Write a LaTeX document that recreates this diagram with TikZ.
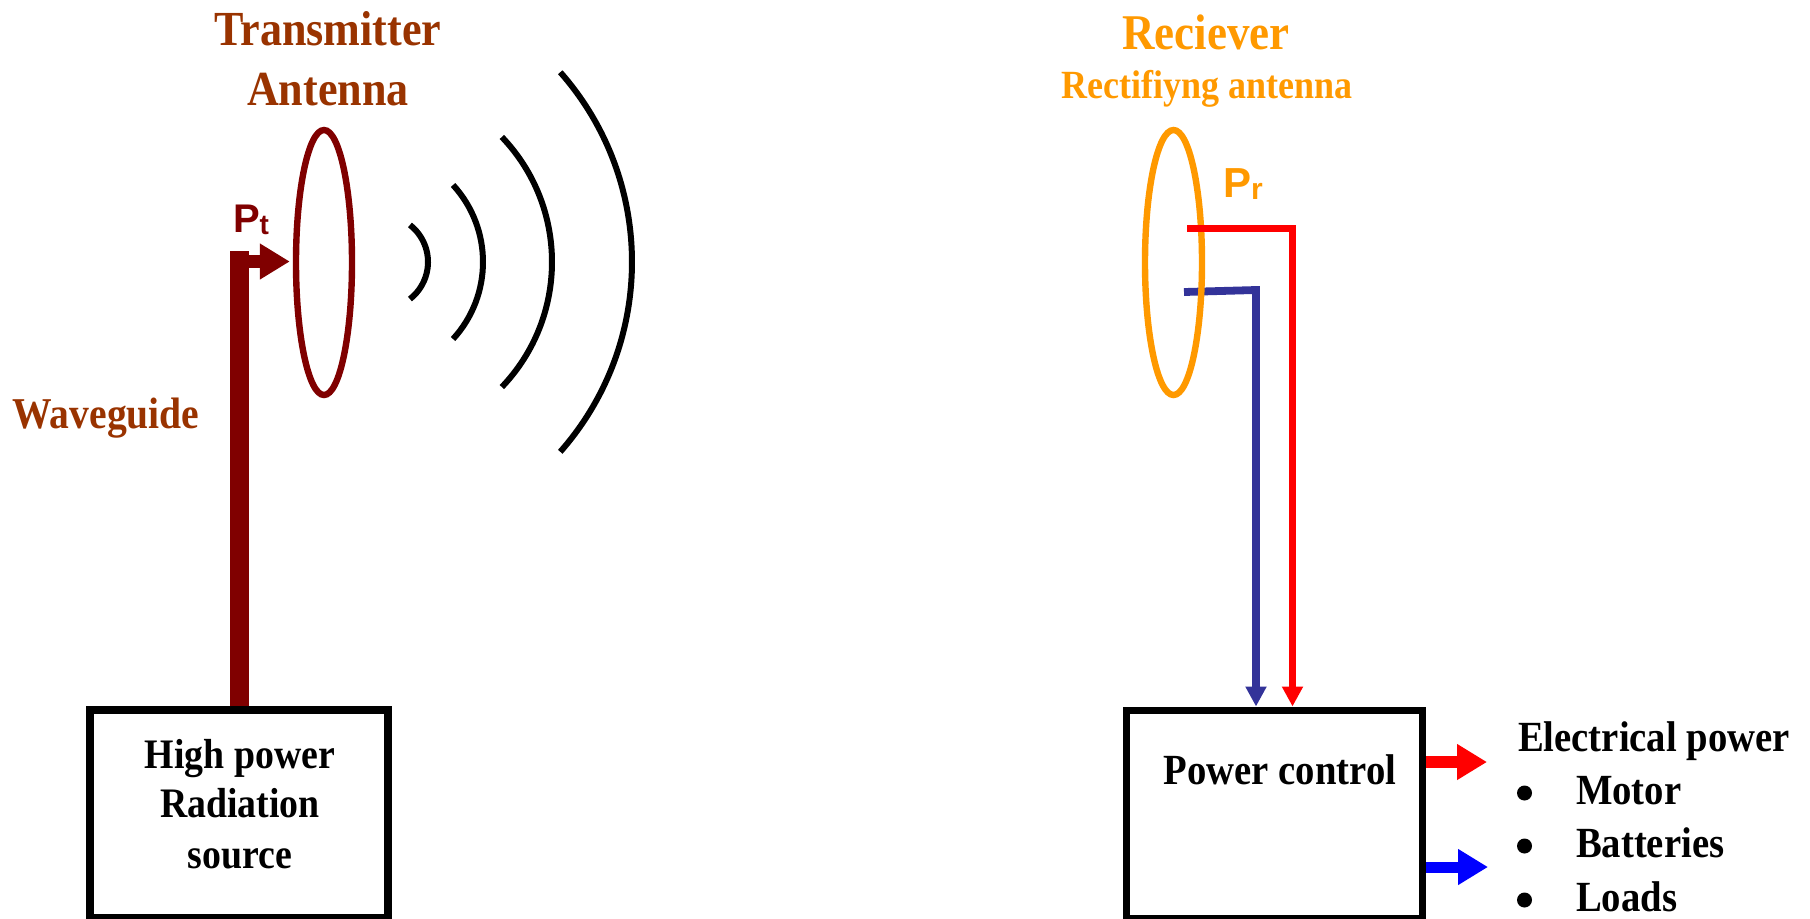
\documentclass[tikz,border=0pt]{standalone}
\usepackage{fontspec}
\setmainfont{Liberation Serif}[FakeStretch=0.9]
\newfontfamily\sansf{Liberation Sans}
\usetikzlibrary{shapes.geometric,arrows.meta}
\definecolor{brn}{HTML}{993300}
\definecolor{dred}{HTML}{800000}
\definecolor{orng}{HTML}{FF9900}
\definecolor{navy}{HTML}{333399}
\definecolor{rd}{HTML}{FF0000}
\definecolor{bl}{HTML}{0000FF}
\begin{document}
\begin{tikzpicture}[x=0.5pt,y=-0.5pt,
  txt/.style={inner sep=0pt, outer sep=0pt},
  boxs/.style={draw=black, line width=3.75pt, inner sep=0pt, rectangle},
  wave/.style={draw=black, line width=3pt},
  bigtip/.style={-{Triangle[width=17pt,length=15pt]}},
  smalltip/.style={-{Triangle[width=10pt,length=10pt]}},
  dot/.style={circle, fill=black, inner sep=0pt, minimum size=7.5pt},
  f/.style={font=\fontsize{#1}{#1}\selectfont\bfseries}
]
\useasboundingbox (0,0) rectangle (1810,918);

% titles
\node[txt, f=24.5, text=brn, anchor=base] (t1) at (328,45) {Transmitter};
\node[txt, f=24.5, text=brn, anchor=base] (t2) at (328,105) {Antenna};
\node[txt, f=25, text=orng, anchor=base] (r1) at (1206,49) {Reciever};
\node[txt, f=20, text=orng, anchor=base] (r2) at (1207,98) {Rectifiyng antenna};
\node[txt, f=22, text=brn, anchor=base] (wg) at (106,428) {Waveguide};

% boxes
\node[boxs, minimum width=149pt, minimum height=104pt] (src) at (239,814) {};
\node[boxs, minimum width=148pt, minimum height=104pt] (pc) at (1274.5,814.25) {};
\node[txt, f=21, anchor=base] (s1) at (240,768) {High power};
\node[txt, f=21, anchor=base] (s2) at (240,817) {Radiation};
\node[txt, f=21, anchor=base] (s3) at (240,868) {source};
\node[txt, f=21.5, anchor=base] (pct) at (1280,784) {Power control};

% antennas
\node[ellipse, draw=dred, line width=3.2pt, minimum width=28pt, minimum height=132.5pt, inner sep=0pt] (tx) at (324,262.5) {};

% waveguide and Pt arrow
\coordinate (wgtop) at (239.5,251);
\draw[dred, line width=9.5pt] (src.north -| wgtop) -- (wgtop);
\coordinate (ptstart) at (245,261.5);
\draw[dred, line width=6.5pt, bigtip, shorten >=1.5pt] (ptstart) -- (ptstart -| tx.west);
\node[txt, text=dred, anchor=base west, font=\sansf\bfseries\fontsize{20}{20}\selectfont] (pt) at (233,232) {P\raisebox{-1pt}{\fontsize{14}{14}\selectfont t}};

% waves
\draw[wave] (381,262) ++(-52:47) arc[start angle=-52, end angle=52, radius=47];
\draw[wave] (369,262) ++(-42.5:114) arc[start angle=-42.5, end angle=42.5, radius=114];
\draw[wave] (371,262) ++(-43.7:181) arc[start angle=-43.7, end angle=43.7, radius=181];
\draw[wave] (345,262) ++(-41.4:287) arc[start angle=-41.4, end angle=41.4, radius=287];

% receiver
\coordinate (b1) at (1184,292);
\coordinate (b2) at (1256,290);
\draw[navy, line width=3.9pt, smalltip] (b1) -- (b2) -- (b2 |- pc.north);
\node[ellipse, draw=orng, line width=3.2pt, minimum width=28.5pt, minimum height=132.5pt, inner sep=0pt] (rx) at (1173.5,262.5) {};
\coordinate (a1) at (1187,228.5);
\coordinate (a2) at (1292.5,228.5);
\draw[rd, line width=3.9pt, smalltip] (a1) -- (a2) -- (a2 |- pc.north);
\node[txt, text=orng, anchor=base west, font=\sansf\bfseries\fontsize{21}{21}\selectfont] (pr) at (1223,197) {P\raisebox{-1pt}{\fontsize{15}{15}\selectfont r}};

% outputs
\coordinate (o1) at (1487,762);
\coordinate (o2) at (1488,867);
\draw[rd, line width=6pt, bigtip] (pc.east |- o1) -- (o1);
\draw[bl, line width=5.5pt, bigtip] (pc.east |- o2) -- (o2);

\node[txt, f=21.5, anchor=base west] (ep) at (1518,751) {Electrical power};
\node[dot] (d1) at (1524.5,793) {};
\node[dot] (d2) at (1524.5,846) {};
\node[dot] (d3) at (1524.5,900) {};
\node[txt, f=21.5, anchor=base west] (m1) at (1576,804) {Motor};
\node[txt, f=21.5, anchor=base west] (m2) at (1576,857) {Batteries};
\node[txt, f=21.5, anchor=base west] (m3) at (1576,911) {Loads};
\end{tikzpicture}
\end{document}
